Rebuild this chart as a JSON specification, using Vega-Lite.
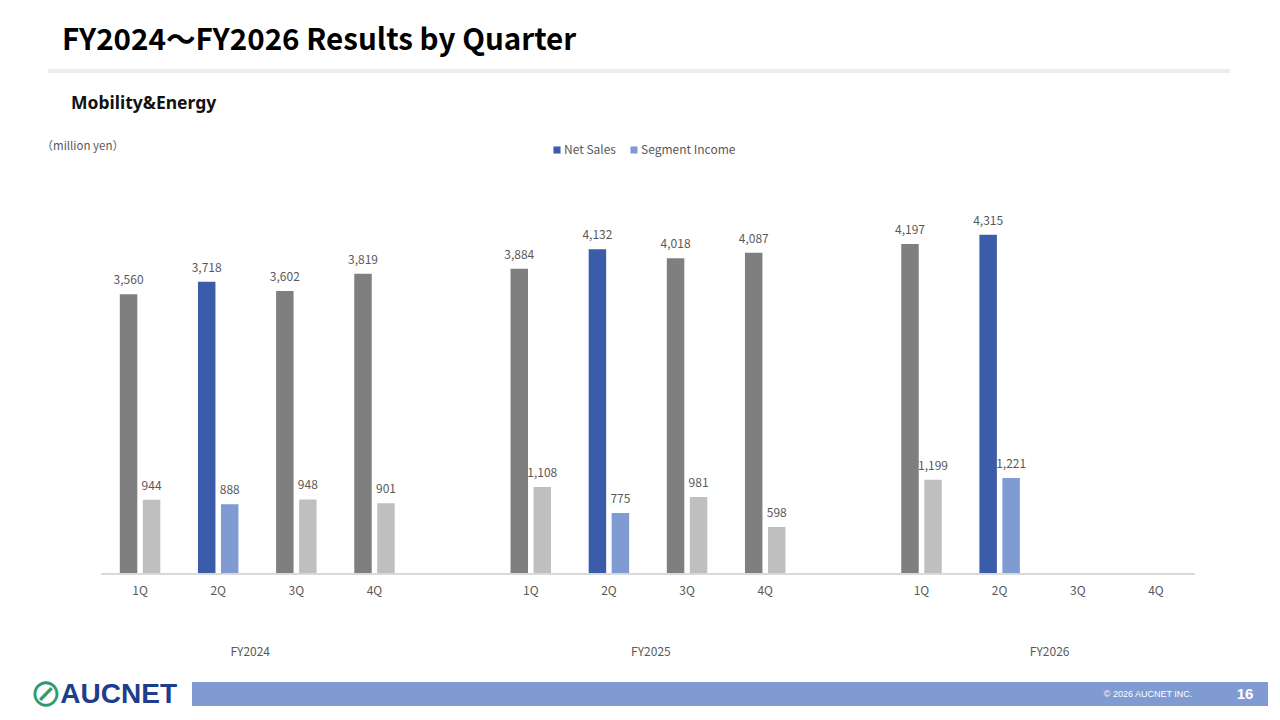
{
  "$schema": "https://vega.github.io/schema/vega-lite/v6.json",
  "background": "white",
  "padding": {"left": 30, "top": 26, "right": 0, "bottom": 0},
  "bounds": "flush",
  "spacing": 108,
  "config": {
    "view": {"stroke": null},
    "font": "Noto Sans CJK JP"
  },
  "vconcat": [
    {
      "data": {"values": [{"part": "header"}]},
      "width": 1182,
      "height": 4,
      "title": {
        "text": "FY2024～FY2026 Results by Quarter",
        "anchor": "start",
        "dx": 14,
        "offset": 12,
        "font": "Noto Sans CJK JP",
        "fontSize": 29.6,
        "fontWeight": "bold",
        "color": "#000000"
      },
      "mark": {"type": "rect", "color": "#ededed"},
      "encoding": {}
    },
    {
      "data": {
        "values": [
          {"period": "FY2024 1Q", "quarter": "1Q", "series": "Net Sales", "value": 3560},
          {"period": "FY2024 1Q", "quarter": "1Q", "series": "Segment Income", "value": 944},
          {"period": "FY2024 2Q", "quarter": "2Q", "series": "Net Sales", "value": 3718},
          {"period": "FY2024 2Q", "quarter": "2Q", "series": "Segment Income", "value": 888},
          {"period": "FY2024 3Q", "quarter": "3Q", "series": "Net Sales", "value": 3602},
          {"period": "FY2024 3Q", "quarter": "3Q", "series": "Segment Income", "value": 948},
          {"period": "FY2024 4Q", "quarter": "4Q", "series": "Net Sales", "value": 3819},
          {"period": "FY2024 4Q", "quarter": "4Q", "series": "Segment Income", "value": 901},
          {"period": "FY2025 1Q", "quarter": "1Q", "series": "Net Sales", "value": 3884},
          {"period": "FY2025 1Q", "quarter": "1Q", "series": "Segment Income", "value": 1108},
          {"period": "FY2025 2Q", "quarter": "2Q", "series": "Net Sales", "value": 4132},
          {"period": "FY2025 2Q", "quarter": "2Q", "series": "Segment Income", "value": 775},
          {"period": "FY2025 3Q", "quarter": "3Q", "series": "Net Sales", "value": 4018},
          {"period": "FY2025 3Q", "quarter": "3Q", "series": "Segment Income", "value": 981},
          {"period": "FY2025 4Q", "quarter": "4Q", "series": "Net Sales", "value": 4087},
          {"period": "FY2025 4Q", "quarter": "4Q", "series": "Segment Income", "value": 598},
          {"period": "FY2026 1Q", "quarter": "1Q", "series": "Net Sales", "value": 4197},
          {"period": "FY2026 1Q", "quarter": "1Q", "series": "Segment Income", "value": 1199},
          {"period": "FY2026 2Q", "quarter": "2Q", "series": "Net Sales", "value": 4315},
          {"period": "FY2026 2Q", "quarter": "2Q", "series": "Segment Income", "value": 1221}
        ]
      },
      "width": 1147,
      "height": 393,
      "title": {
        "text": "Mobility&Energy",
        "anchor": "start",
        "dx": 30,
        "offset": 28,
        "font": "Noto Sans",
        "fontSize": 17.5,
        "fontWeight": "bold",
        "color": "#111111"
      },
      "encoding": {
        "y": {
          "field": "value",
          "type": "quantitative",
          "scale": {"domain": [0, 5000]},
          "axis": {
            "title": "（million yen）",
            "labels": false,
            "ticks": false,
            "domain": false,
            "grid": false,
            "titleAngle": 0,
            "titleAlign": "left",
            "titleBaseline": "middle",
            "titleX": -7,
            "titleY": -35,
            "titleFontSize": 11.5,
            "titleFontWeight": "normal",
            "titleColor": "#595959"
          }
        }
      },
      "resolve": {"axis": {"x": "independent"}},
      "layer": [
        {
          "mark": {"type": "bar"},
          "encoding": {
            "x": {
              "field": "period",
              "type": "nominal",
              "title": null,
              "scale": {
                "domain": ["FY2024 1Q", "FY2024 2Q", "FY2024 3Q", "FY2024 4Q", "FY2024 gap",
                           "FY2025 1Q", "FY2025 2Q", "FY2025 3Q", "FY2025 4Q", "FY2025 gap",
                           "FY2026 1Q", "FY2026 2Q", "FY2026 3Q", "FY2026 4Q"],
                "paddingInner": 0,
                "paddingOuter": 0.339,
                "align": 1
              },
              "axis": {
                "values": ["FY2024 1Q", "FY2024 2Q", "FY2024 3Q", "FY2024 4Q",
                           "FY2025 1Q", "FY2025 2Q", "FY2025 3Q", "FY2025 4Q",
                           "FY2026 1Q", "FY2026 2Q", "FY2026 3Q", "FY2026 4Q"],
                "labelExpr": "split(datum.label, ' ')[1]",
                "labelAngle": 0,
                "ticks": false,
                "domain": false,
                "labelColor": "#595959",
                "labelFontSize": 12,
                "labelPadding": 11
              }
            },
            "xOffset": {
              "field": "series",
              "type": "nominal",
              "scale": {"domain": ["Net Sales", "Segment Income"], "paddingInner": 0.24, "paddingOuter": 0.8185}
            },
            "color": {
              "field": "series",
              "type": "nominal",
              "scale": {"domain": ["Net Sales", "Segment Income"], "range": ["#3a5ca9", "#7f9bd2"]},
              "condition": [
                {"test": "datum.quarter !== '2Q' && datum.series === 'Net Sales'", "value": "#7f7f7f"},
                {"test": "datum.quarter !== '2Q'", "value": "#bfbfbf"}
              ],
              "legend": {
                "title": null,
                "orient": "none",
                "direction": "horizontal",
                "legendX": 503,
                "legendY": 75,
                "padding": 0,
                "symbolType": "square",
                "symbolSize": 50,
                "symbolStrokeWidth": 0,
                "labelFontSize": 12,
                "labelColor": "#595959",
                "labelOffset": 1,
                "columnPadding": 12
              }
            }
          }
        },
        {
          "mark": {"type": "text", "baseline": "bottom", "dy": -7, "fontSize": 12, "color": "#595959"},
          "encoding": {
            "x": {
              "field": "period",
              "type": "nominal",
              "title": null,
              "axis": {
                "orient": "bottom",
                "values": ["FY2024 2Q", "FY2025 2Q", "FY2026 2Q"],
                "labelExpr": "split(datum.label, ' ')[0]",
                "labelOffset": {
                  "condition": [
                    {"test": "datum.value === 'FY2024 2Q'", "value": 32},
                    {"test": "datum.value === 'FY2025 2Q'", "value": 42}
                  ],
                  "value": 50
                },
                "labelAngle": 0,
                "ticks": false,
                "domain": false,
                "labelColor": "#595959",
                "labelFontSize": 12,
                "labelPadding": 72
              }
            },
            "xOffset": {"field": "series", "type": "nominal"},
            "text": {"field": "value", "type": "quantitative", "format": ","}
          }
        },
        {
          "mark": {"type": "rule", "color": "#d9d9d9", "strokeWidth": 1},
          "encoding": {
            "x": {"datum": "FY2024 1Q", "type": "nominal", "bandPosition": 0, "axis": null},
            "x2": {"datum": "FY2026 4Q", "bandPosition": 1},
            "y": {"datum": 0}
          }
        }
      ]
    },
    {
      "bounds": "flush",
      "spacing": 15,
      "hconcat": [
        {
          "data": {
            "values": [
              {"part": "icon", "label": "⊘"},
              {"part": "word", "label": "AUCNET"}
            ]
          },
          "width": 129,
          "height": 24,
          "encoding": {
            "x": {
              "field": "part",
              "type": "nominal",
              "axis": null,
              "scale": {"type": "point", "domain": ["icon", "word"], "range": [0, 129], "padding": 0}
            },
            "text": {"field": "label"}
          },
          "layer": [
            {
              "transform": [{"filter": "datum.part === 'icon'"}],
              "mark": {"type": "text", "align": "center", "dx": -2, "dy": 1, "font": "DejaVu Sans", "fontSize": 38, "color": "#2f9a6f"}
            },
            {
              "transform": [{"filter": "datum.part === 'word'"}],
              "mark": {"type": "text", "align": "right", "dy": 1, "font": "Liberation Sans", "fontSize": 28, "fontWeight": "bold", "color": "#1d3e8a"}
            }
          ]
        },
        {
          "data": {
            "values": [
              {"item": "copyright", "label": "© 2026 AUCNET INC."},
              {"item": "page", "label": "16"}
            ]
          },
          "width": 1076,
          "height": 24,
          "layer": [
            {
              "mark": {"type": "rect", "color": "#7f9bd2"},
              "encoding": {}
            },
            {
              "transform": [{"filter": "datum.item === 'copyright'"}],
              "mark": {"type": "text", "color": "white", "fontSize": 9, "font": "Liberation Sans"},
              "encoding": {
                "x": {
                  "field": "item",
                  "type": "nominal",
                  "axis": null,
                  "scale": {"type": "point", "domain": ["copyright", "page"], "range": [956, 1053], "padding": 0}
                },
                "text": {"field": "label"}
              }
            },
            {
              "transform": [{"filter": "datum.item === 'page'"}],
              "mark": {"type": "text", "color": "white", "fontSize": 15, "fontWeight": "bold", "font": "Liberation Sans"},
              "encoding": {
                "x": {"field": "item", "type": "nominal", "axis": null},
                "text": {"field": "label"}
              }
            }
          ]
        }
      ]
    }
  ]
}
